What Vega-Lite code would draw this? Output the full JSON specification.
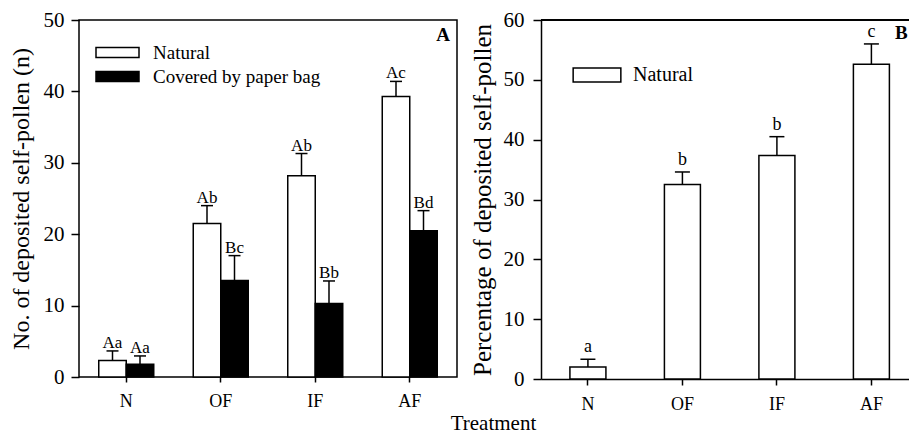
{
  "$schema": "https://vega.github.io/schema/vega-lite/v6.json",
  "padding": {"left": 8, "top": 8, "right": 0, "bottom": 0},
  "background": "white",
  "config": {
    "font": "Liberation Serif",
    "view": {"stroke": null},
    "axis": {
      "domainColor": "black", "domainWidth": 1.5, "tickColor": "black", "tickWidth": 1.5,
      "labelColor": "black", "labelFont": "Liberation Serif", "titleFont": "Liberation Serif",
      "titleColor": "black", "titleFontWeight": "normal", "grid": false
    },
    "legend": {"labelFont": "Liberation Serif", "labelColor": "black", "padding": 0, "labelLimit": 400}
  },
  "title": {"text": "Treatment", "orient": "bottom", "anchor": "middle", "dx": 34, "offset": 0, "fontSize": 21, "fontWeight": "normal", "font": "Liberation Serif", "color": "black"},
  "spacing": 12,
  "resolve": {"scale": {"fill": "independent"}, "legend": {"fill": "independent"}},
  "hconcat": [
    {
      "width": 378,
      "height": 357,
      "view": {"stroke": "black", "strokeWidth": 1.5},
      "title": {"text": "A", "anchor": "end", "orient": "top", "baseline": "alphabetic", "offset": -51, "dx": -7, "fontSize": 19, "fontWeight": "bold", "font": "Liberation Serif", "color": "black"},
      "data": {"values": [
        {"treatment": "N", "group": "Natural", "mean": 2.3, "upper": 3.65, "label": "Aa"},
        {"treatment": "N", "group": "Covered by paper bag", "mean": 1.8, "upper": 2.95, "label": "Aa"},
        {"treatment": "OF", "group": "Natural", "mean": 21.5, "upper": 24.0, "label": "Ab"},
        {"treatment": "OF", "group": "Covered by paper bag", "mean": 13.5, "upper": 17.0, "label": "Bc"},
        {"treatment": "IF", "group": "Natural", "mean": 28.2, "upper": 31.3, "label": "Ab"},
        {"treatment": "IF", "group": "Covered by paper bag", "mean": 10.3, "upper": 13.45, "label": "Bb"},
        {"treatment": "AF", "group": "Natural", "mean": 39.3, "upper": 41.4, "label": "Ac"},
        {"treatment": "AF", "group": "Covered by paper bag", "mean": 20.5, "upper": 23.3, "label": "Bd"}
      ]},
      "encoding": {
        "x": {"field": "treatment", "type": "nominal", "sort": ["N", "OF", "IF", "AF"],
          "scale": {"paddingInner": 0.418, "paddingOuter": 0.209},
          "axis": {"title": null, "labelAngle": 0, "labelFontSize": 18, "tickSize": 5, "labelPadding": 10, "domain": false}},
        "xOffset": {"field": "group", "type": "nominal", "sort": ["Natural", "Covered by paper bag"]}
      },
      "layer": [
        {
          "mark": {"type": "bar", "stroke": "black", "strokeWidth": 1.5},
          "encoding": {
            "y": {"field": "mean", "type": "quantitative", "scale": {"domain": [0, 50]},
              "axis": {"values": [0, 10, 20, 30, 40, 50], "tickSize": 8, "labelPadding": 7, "labelFontSize": 21,
                "title": "No. of deposited self-pollen (n)", "titleFontSize": 24, "titlePadding": 10, "domain": false}},
            "fill": {"field": "group", "type": "nominal",
              "scale": {"domain": ["Natural", "Covered by paper bag"], "range": ["white", "black"]},
              "legend": {"orient": "none", "legendX": 29, "legendY": 23, "title": null,
                "symbolType": "M-4.3,-1H4.3V1H-4.3Z", "symbolSize": 100, "symbolStrokeColor": "black",
                "symbolStrokeWidth": 1.5, "symbolOpacity": 1, "labelFontSize": 19, "labelOffset": 26, "rowPadding": 4}}
          }
        },
        {
          "mark": {"type": "rule", "strokeWidth": 1.5, "color": "black"},
          "encoding": {"y": {"field": "mean", "type": "quantitative"}, "y2": {"field": "upper"}}
        },
        {
          "mark": {"type": "tick", "thickness": 1.5, "size": 12, "color": "black", "opacity": 1},
          "encoding": {"y": {"field": "upper", "type": "quantitative"}}
        },
        {
          "mark": {"type": "text", "baseline": "alphabetic", "dy": -3, "fontSize": 17, "color": "black", "font": "Liberation Serif"},
          "encoding": {"y": {"field": "upper", "type": "quantitative"}, "text": {"field": "label"}}
        }
      ]
    },
    {
      "width": 369,
      "height": 359,
      "title": {"text": "B", "anchor": "end", "orient": "top", "baseline": "alphabetic", "offset": -49, "dx": -3, "fontSize": 19, "fontWeight": "bold", "font": "Liberation Serif", "color": "black"},
      "data": {"values": [
        {"treatment": "N", "group": "Natural", "mean": 2.0, "upper": 3.3, "label": "a"},
        {"treatment": "OF", "group": "Natural", "mean": 32.5, "upper": 34.6, "label": "b"},
        {"treatment": "IF", "group": "Natural", "mean": 37.35, "upper": 40.5, "label": "b"},
        {"treatment": "AF", "group": "Natural", "mean": 52.6, "upper": 56.0, "label": "c"}
      ]},
      "layer": [
        {
          "mark": {"type": "bar", "stroke": "black", "strokeWidth": 1.5},
          "encoding": {
            "x": {"field": "treatment", "type": "nominal", "sort": ["N", "OF", "IF", "AF"],
              "scale": {"paddingInner": 0.619, "paddingOuter": 0.262, "align": 0.584},
              "axis": {"title": null, "labelAngle": 0, "labelFontSize": 18, "tickSize": 6, "labelPadding": 10}},
            "y": {"field": "mean", "type": "quantitative", "scale": {"domain": [0, 60]},
              "axis": {"values": [0, 10, 20, 30, 40, 50, 60], "tickSize": 8, "labelPadding": 9, "labelFontSize": 21,
                "title": "Percentage of deposited self-pollen", "titleFontSize": 25, "titlePadding": 8}},
            "fill": {"field": "group", "type": "nominal",
              "scale": {"domain": ["Natural"], "range": ["white"]},
              "legend": {"orient": "none", "legendX": 46, "legendY": 45, "title": null,
                "symbolType": "M-4.77,-1.4H4.77V1.4H-4.77Z", "symbolSize": 100, "symbolStrokeColor": "black",
                "symbolStrokeWidth": 1.5, "symbolOpacity": 1, "labelFontSize": 20, "labelOffset": 26}}
          }
        },
        {
          "mark": {"type": "rule", "strokeWidth": 1.5, "color": "black"},
          "encoding": {
            "x": {"field": "treatment", "type": "nominal", "sort": ["N", "OF", "IF", "AF"]},
            "y": {"field": "mean", "type": "quantitative"}, "y2": {"field": "upper"}}
        },
        {
          "mark": {"type": "tick", "thickness": 1.5, "size": 15, "color": "black", "opacity": 1},
          "encoding": {
            "x": {"field": "treatment", "type": "nominal", "sort": ["N", "OF", "IF", "AF"]},
            "y": {"field": "upper", "type": "quantitative"}}
        },
        {
          "mark": {"type": "text", "baseline": "alphabetic", "dy": -7, "fontSize": 18, "color": "black", "font": "Liberation Serif"},
          "encoding": {
            "x": {"field": "treatment", "type": "nominal", "sort": ["N", "OF", "IF", "AF"]},
            "y": {"field": "upper", "type": "quantitative"}, "text": {"field": "label"}}
        },
        {
          "mark": {"type": "rule", "strokeWidth": 1.5, "color": "black"},
          "encoding": {"y": {"datum": 60}}
        }
      ]
    }
  ]
}
